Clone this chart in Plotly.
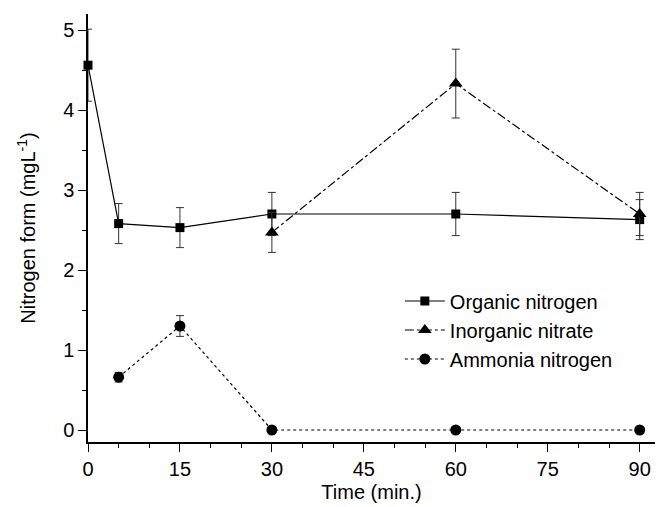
import plotly.graph_objects as go

time_org = [0, 5, 15, 30, 60, 90]
organic = [4.56, 2.58, 2.53, 2.70, 2.70, 2.63]
organic_err = [0.45, 0.25, 0.25, 0.27, 0.27, 0.25]

time_inorg = [30, 60, 90]
inorganic = [2.47, 4.33, 2.70]
inorganic_err = [0.25, 0.43, 0.27]

time_amm = [5, 15, 30, 60, 90]
ammonia = [0.66, 1.30, 0.0, 0.0, 0.0]
ammonia_err = [0.06, 0.13, 0, 0, 0]

x_ticks = [0, 15, 30, 45, 60, 75, 90]
y_ticks = [0, 1, 2, 3, 4, 5]

FONT = "Liberation Sans, Arial, sans-serif"
FS = 20

fig = go.Figure()

def err(vals):
    return dict(type="data", array=vals, visible=True, color="#333333", thickness=1, width=4)

fig.add_trace(go.Scatter(
    x=time_org, y=organic, name="Organic nitrogen", mode="lines+markers",
    line=dict(color="black", width=1.2, dash="solid"),
    marker=dict(symbol="square", size=9, color="black"),
    error_y=err(organic_err), cliponaxis=False))
fig.add_trace(go.Scatter(
    x=time_inorg, y=inorganic, name="Inorganic nitrate", mode="lines+markers",
    line=dict(color="black", width=1.2, dash="dashdot"),
    marker=dict(symbol="triangle-up", size=12, color="black"),
    error_y=err(inorganic_err), cliponaxis=False))
fig.add_trace(go.Scatter(
    x=time_amm, y=ammonia, name="Ammonia nitrogen", mode="lines+markers",
    line=dict(color="black", width=1.2, dash="dot"),
    marker=dict(symbol="circle", size=11, color="black"),
    error_y=err(ammonia_err), cliponaxis=False))

fig.update_layout(
    width=662, height=507,
    margin=dict(l=88, r=7, t=14, b=62),
    paper_bgcolor="white", plot_bgcolor="white",
    font=dict(family=FONT, size=FS, color="black"),
    showlegend=True,
    legend=dict(x=0.55, y=0.375, xanchor="left", yanchor="top",
                bgcolor="rgba(0,0,0,0)", font=dict(size=FS, family=FONT),
                itemwidth=40, tracegroupgap=0),
    xaxis=dict(range=[0, 92.5], tickvals=x_ticks, ticktext=[str(v) for v in x_ticks],
               showline=True, linecolor="black", linewidth=1.5,
               ticks="outside", ticklen=8, tickwidth=1.2, tickcolor="black",
               showgrid=False, zeroline=False,
               minor=dict(dtick=5, tick0=0, ticks="outside", ticklen=4, tickcolor="black", tickwidth=1, showgrid=False),
               title=dict(text="Time (min.)", font=dict(size=FS), standoff=6)),
    yaxis=dict(range=[-0.15, 5.2], tickvals=y_ticks, ticktext=[str(v) for v in y_ticks],
               showline=True, linecolor="black", linewidth=1.5,
               ticks="outside", ticklen=8, tickwidth=1.2, tickcolor="black",
               showgrid=False, zeroline=False,
               minor=dict(dtick=0.5, tick0=0, ticks="outside", ticklen=4, tickcolor="black", tickwidth=1, showgrid=False),
               title=dict(text="Nitrogen form (mgL<sup>-1</sup>)", font=dict(size=FS), standoff=22)),
)

fig.write_html("out.html")
